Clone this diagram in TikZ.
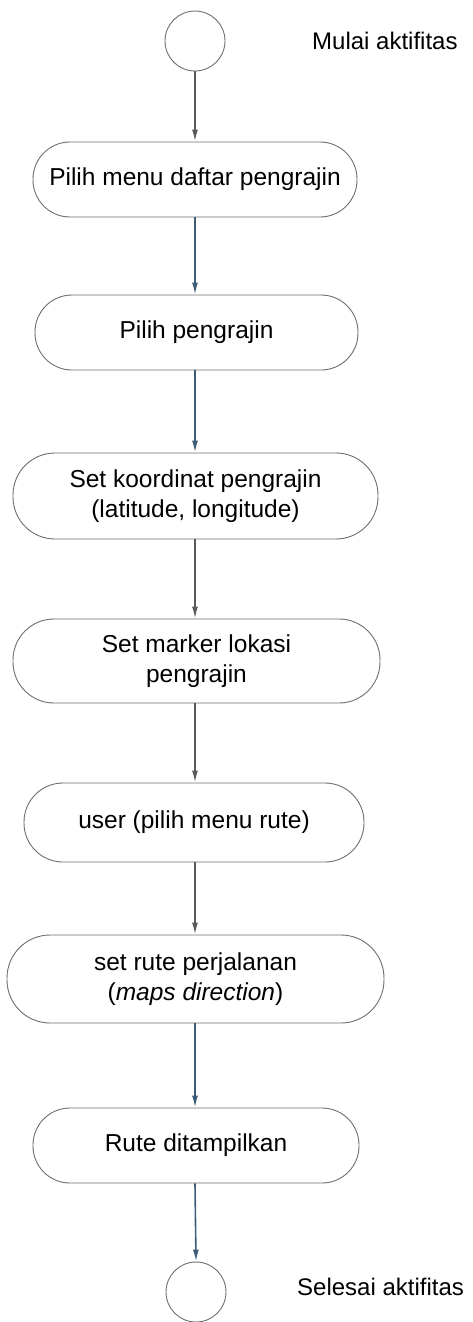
\documentclass[tikz,border=0pt]{standalone}
\usepackage{fontspec}
\setmainfont{Liberation Sans}
\usetikzlibrary{arrows.meta}
\definecolor{edgegray}{HTML}{6E6E6E}
\definecolor{arrgray}{HTML}{5A5A5A}
\definecolor{arrblue}{HTML}{3E5C78}
\begin{document}
\begin{tikzpicture}[x=1pt,y=-1pt,
  act/.style={draw=edgegray, line width=0.9pt, fill=white, inner sep=0pt,
    align=center, font=\fontsize{24.5}{30}\selectfont, text=black},
  term/.style={circle, draw=edgegray, line width=0.9pt, minimum size=60pt, inner sep=0pt},
  flowg/.style={draw=arrgray, line width=1.6pt, -{Latex[length=12pt,width=6pt]}},
  flowb/.style={draw=arrblue, line width=1.6pt, -{Latex[length=12pt,width=6pt]}},
  lbl/.style={font=\fontsize{24}{28}\selectfont, anchor=base west, inner sep=0pt, text=black}]
\useasboundingbox (0,0) rectangle (472,1322);
\node[term] (start) at (195,41) {};
\node[lbl] (startl) at (312,50) {Mulai aktifitas};

\node[act, minimum width=324pt, minimum height=75pt, rounded corners=37pt] (a1) at (195,179.5) {Pilih menu daftar pengrajin};
\node[act, minimum width=323pt, minimum height=75pt, rounded corners=37pt] (a2) at (196.5,332.5) {Pilih pengrajin};
\node[act, minimum width=365pt, minimum height=86pt, rounded corners=42pt] (a3) at (195.5,496) {Set koordinat pengrajin\\(latitude, longitude)};
\node[act, minimum width=367pt, minimum height=84pt, rounded corners=41pt] (a4) at (196.5,661) {Set marker lokasi\\pengrajin};
\node[act, minimum width=340pt, minimum height=79pt, rounded corners=39pt] (a5) at (194,822.5) {user (pilih menu rute)};
\node[act, minimum width=377pt, minimum height=88pt, rounded corners=43pt] (a6) at (195.5,979) {set rute perjalanan\\(\textit{maps direction})};
\node[act, minimum width=326pt, minimum height=75pt, rounded corners=37pt] (a7) at (196,1145.5) {Rute ditampilkan};

\node[term] (end) at (196,1292) {};
\node[lbl] (endl) at (297,1295) {Selesai aktifitas};

\draw[flowg] (start.south) -- (start.south |- a1.north);
\draw[flowb] (start.south |- a1.south) -- (start.south |- a2.north);
\draw[flowb] (start.south |- a2.south) -- (start.south |- a3.north);
\draw[flowg] (start.south |- a3.south) -- (start.south |- a4.north);
\draw[flowg] (start.south |- a4.south) -- (start.south |- a5.north);
\draw[flowg] (start.south |- a5.south) -- (start.south |- a6.north);
\draw[flowb] (start.south |- a6.south) -- (start.south |- a7.north);
\draw[flowb] (start.south |- a7.south) -- (end.north);
\end{tikzpicture}
\end{document}
